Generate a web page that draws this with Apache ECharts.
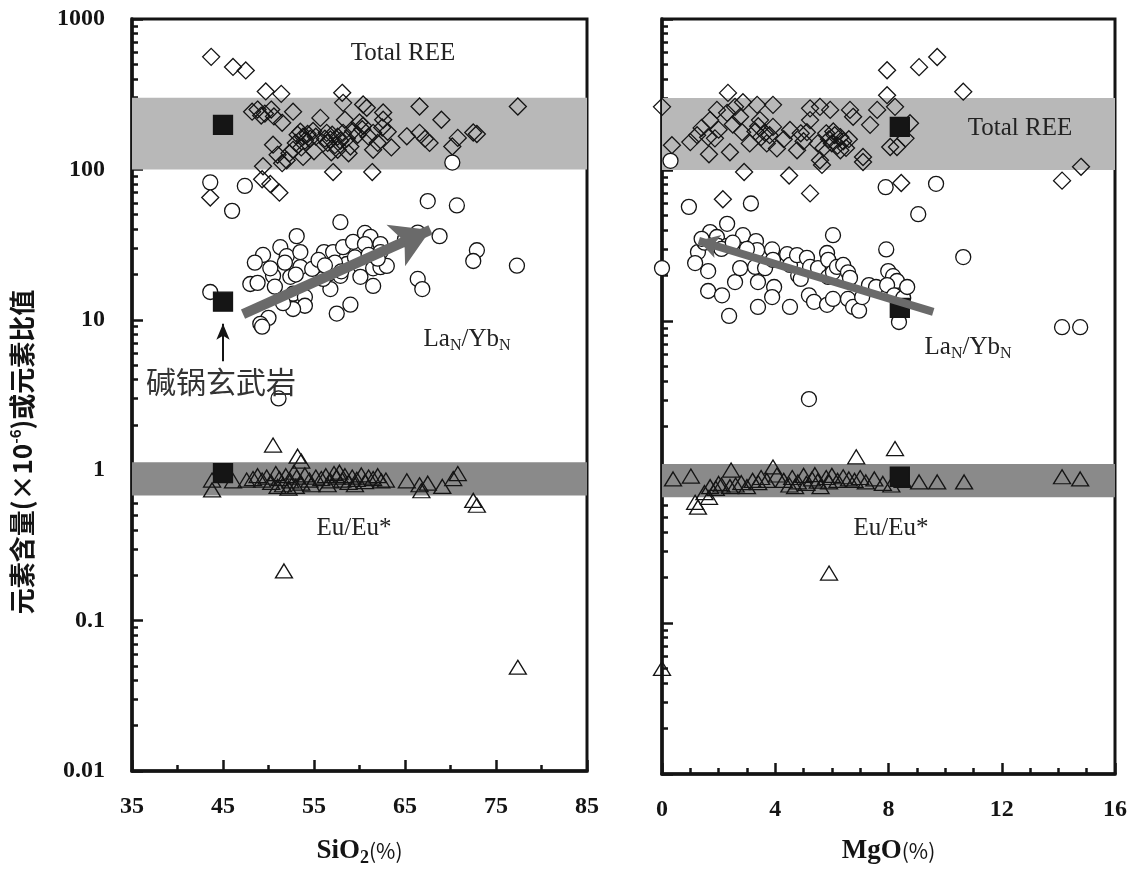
<!DOCTYPE html>
<html>
<head>
<meta charset="utf-8">
<script src="https://cdn.jsdelivr.net/npm/echarts@6/dist/echarts.min.js"></script>
<style>
  html, body { margin: 0; background: #fff; }
  #chart { width: 1138px; height: 872px; }
</style>
</head>
<body>
<div id="chart"></div>
<script>
// ---- 数据 ----
// SiO2 图: [SiO2, Total REE]
const sio2Diamonds = [
  [43.7,560],[46.1,480],[47.5,455],[49.7,330],[51.4,318],[58.1,323],[58.2,277],[60.4,270],[60.8,257],[62.6,239],[66.6,262],[77.4,262],
  [48.2,242],[48.8,250],[49.2,228],[49.6,235],[50.3,250],[50.6,225],[52.7,242],[51.5,204],[55.7,220],[58.4,214],[60,205],[60.4,195],
  [62.6,214],[63.1,178],[65.2,166],[66.6,175],[67.2,160],[67.7,150],[69,214],[70.2,142],[70.8,162],[72.5,176],[72.9,172],[50.5,146],
  [53.2,170],[53.5,178],[53.8,165],[54,155],[54.3,172],[54.6,160],[53,150],[54.9,180],[53.6,140],[55.2,165],
  [56.2,160],[56.5,150],[56.8,158],[57,170],[57.3,145],[57.6,165],[57.9,155],[58.2,175],[56.4,175],[58.6,160],[59.3,180],
  [59.8,170],[60.3,185],[61,165],[61.5,175],[62,150],[62.5,190],
  [57.1,96],[61.4,96],[51.5,110],[52,115],[49.4,105],[53.8,121],[61.5,135],[57.6,135],[56.9,130],[59,142],[52.7,135],
  [49.3,86],[50.2,80],[51.2,70],[43.6,65],[55,132],[58.8,128],[63.5,140],[51,125],[52.3,128]
];
// [SiO2, LaN/YbN]
const sio2Circles = [
  [43.6,82],[47.4,77.6],[70.2,111],[67.5,61.6],[70.7,57.6],[46,53],[57.9,44.6],[53.1,36],[51.3,30.4],[49.4,27],[48.5,24],
  [48,17.3],[48.8,17.6],[50.5,19.6],[50.7,16.6],[52,26.5],[53.5,28.2],[53.5,22.4],[52.4,19.3],[52.7,14.9],[54,14.2],[54,12.4],
  [52.7,11.8],[51.6,12.9],[50,10.3],[49.1,9.4],[49.3,9.0],[43.6,15.3],[56.1,28.2],[57.1,28.2],[58.2,30.4],[59.3,33],[60.6,37.8],
  [61.2,35.6],[60.6,31.9],[62.3,31.9],[62.3,28.2],[55.3,22.4],[56.5,20],[57.9,19.6],[56.8,16],[58.6,23.5],[60.1,22.8],[60.1,19.3],
  [61.5,22],[62.3,22.4],[63,22.8],[61.5,16.8],[59,12.6],[57.5,11],[55.7,21.8],[56,18.7],[54.8,21.8],[65,34.4],[66.4,38],[68.8,36],
  [72.9,29],[72.5,24.6],[77.3,22.9],[66.4,18.7],[66.9,16],[51.1,3.0],
  [55.5,25],[57.3,24],[59.5,26],[58,21],[61,27],[62,25.5],[50.2,22],[51.8,24],[53,20],[56.2,23]
];
// [SiO2, Eu/Eu*]
const sio2Triangles = [
  [50.5,1.47],[53.2,1.24],[53.6,1.15],[43.8,0.74],[43.8,0.86],[46.1,0.85],[47.6,0.86],
  [48.3,0.88],[48.8,0.92],[49.3,0.86],[49.8,0.9],[50.3,0.83],[50.8,0.95],[51.2,0.88],[51.6,0.8],[51.9,0.92],[52.4,0.85],
  [52.8,0.97],[53.1,0.9],[53.6,0.82],[54,0.93],[54.5,0.86],[55.2,0.9],[55.8,0.88],[56.3,0.92],[56.8,0.85],[57.2,0.95],
  [57.5,0.9],[57.8,0.97],[58.1,0.86],[58.4,0.92],[58.8,0.83],[59.2,0.9],[59.7,0.87],[60.2,0.93],[60.6,0.84],[61,0.9],
  [61.5,0.88],[62,0.92],[62.4,0.85],[62.9,0.86],[51,0.78],[53,0.78],[56.5,0.8],[59.5,0.8],[52.2,0.76],[54.7,0.8],
  [65.2,0.85],[66.6,0.8],[66.8,0.73],[67.5,0.82],[69.1,0.78],[70.3,0.88],[70.8,0.95],[72.5,0.63],[72.9,0.585],
  [51.7,0.214],[77.4,0.049]
];
const sio2Basalt = [[45,198],[45,13.2],[45,0.955]];

// MgO 图: [MgO, Total REE]
const mgoDiamonds = [
  [0,262],[0.35,146],[1.0,153],[1.24,170],[1.7,214],[1.94,250],[2.33,324],[2.58,262],[2.86,281],[2.3,239],[2.76,225],[1.63,165],
  [1.87,162],[1.66,127],[2.4,131],[2.83,178],[3.36,270],[3.92,270],[3.46,214],[3.64,176],[3.1,150],[3.92,193],[4.06,139],
  [4.52,184],[4.77,135],[5.23,256],[5.58,262],[5.94,250],[5.23,214],[5.12,178],
  [5.9,160],[6.0,150],[6.1,170],[6.2,145],[6.3,165],[6.4,155],[6.5,140],[6.6,160],[5.8,175],[6.05,180],[6.3,135],[5.5,150],[5.7,140],
  [5.58,116],[5.65,108],[6.64,250],[6.75,225],[7.1,122],[7.1,113],[7.35,199],[7.6,250],[7.95,458],[7.95,313],[8.23,262],
  [8.76,204],[8.06,142],[8.3,142],[8.6,162],[9.08,480],[9.72,560],[10.64,330],[14.13,85],[14.8,105],[2.9,97],[4.49,92],
  [5.23,70],[2.15,64],[8.45,82],
  [3.3,180],[3.5,165],[3.7,150],[3.4,195],[3.8,170],[4.3,160],[4.9,175],[5.0,155],[2.0,185],[2.5,200],[1.4,190]
];
// [MgO, LaN/YbN]
const mgoCircles = [
  [0.3,115],[0.95,57],[3.14,60],[7.9,77],[9.68,81],[9.05,51],[0,22.4],[2.3,44],[1.7,38.8],[1.94,36],[1.98,31.4],[2.3,31.4],
  [2.69,31.9],[2.86,37],[3.32,33.8],[3.36,29.5],[1.27,28.6],[1.17,24.2],[1.63,21.4],[1.63,15.8],[2.12,14.8],[2.58,18.1],
  [2.37,10.8],[2.76,22.4],[3.29,22.8],[3.64,22.4],[3.39,18.1],[3.89,29.8],[3.92,25.4],[3.96,16.8],[3.89,14.4],[3.39,12.4],
  [4.42,27.7],[4.52,23.5],[4.77,27.3],[5.12,26.2],[4.81,20],[4.9,19],[5.23,22.8],[5.51,22.4],[4.52,12.4],[5.19,14.8],
  [5.37,13.4],[5.83,12.8],[5.83,28.2],[5.87,25.4],[6.04,37],[5.87,19.6],[6.04,21],[6.04,14],[6.18,22.8],[6.4,23.5],
  [6.57,21],[6.64,19.3],[6.57,14],[6.75,12.4],[6.96,11.7],[7.07,14.4],[7.31,17.3],[7.56,16.8],[7.92,29.8],[7.99,21.4],
  [8.16,19.8],[8.3,18.4],[7.95,17.3],[8.2,14.8],[8.52,14.2],[8.66,16.8],[8.37,9.85],[10.64,26.5],[5.19,3.04],[14.13,9.1],
  [14.77,9.1],[1.5,33],[2.1,30],[2.5,33],[3.0,30],[1.4,35]
];
// [MgO, Eu/Eu*]
const mgoTriangles = [
  [0,0.05],[0.39,0.9],[1.02,0.94],[1.17,0.63],[1.27,0.585],[1.66,0.68],[1.7,0.8],[1.9,0.78],[2.1,0.82],[2.4,0.8],[2.44,1.03],
  [2.6,0.82],[2.8,0.85],[3.0,0.8],[3.2,0.88],[3.4,0.85],[3.5,0.92],[3.7,0.88],[3.92,1.08],[4.06,0.955],[4.3,0.88],[4.5,0.82],
  [4.6,0.92],[4.8,0.86],[5.0,0.95],[5.1,0.84],[5.3,0.9],[5.4,0.96],[5.5,0.87],[5.6,0.8],[5.8,0.92],[5.9,0.86],[6.0,0.95],
  [6.2,0.88],[6.4,0.93],[6.6,0.9],[6.86,1.26],[6.8,0.88],[7.0,0.92],[7.2,0.86],[7.5,0.9],[7.8,0.84],[8.23,1.43],[8.1,0.82],
  [8.5,0.88],[9.08,0.86],[9.72,0.86],[10.67,0.86],[14.13,0.93],[14.77,0.9],[5.9,0.214],[1.5,0.73],[2.0,0.84],[4.7,0.8]
];
const mgoBasalt = [[8.4,193],[8.4,12.2],[8.4,0.93]];

// 背景条带、趋势箭头
const reeBand = [100, 300];
const euBand = [0.68, 1.13];
const trendSiO2 = [[47.2,10.9],[67.8,39.6]];
const trendMgO = [[9.58,11.5],[1.3,34]];
const basaltArrow = [[45,5.3],[45,9.4]];

// 刻度
const yMajorTicks = [0.01, 0.1, 1, 10, 100, 1000];
const yMinorSteps = [2, 3, 4, 5, 6, 7, 8, 9];
const yMinorTicks = [];
yMajorTicks.slice(0, -1).forEach(d => yMinorSteps.forEach(m => yMinorTicks.push(+(d * m).toPrecision(3))));

const serif = "'Liberation Serif','Times New Roman',serif";
const cjk = "'Noto Sans CJK SC',sans-serif";
const ink = '#141414';

let makeYAxes = (gi, showLabel) => [
  {
    type: 'log', gridIndex: gi, min: 0.01, max: 1000, position: 'left',
    axisLine: { show: true, lineStyle: { color: ink, width: 3.5 } },
    axisTick: { inside: true, length: 11, lineStyle: { color: ink, width: 2.5 }, customValues: yMajorTicks },
    axisLabel: { show: showLabel, customValues: yMajorTicks, margin: 27, formatter: v => String(v),
      fontFamily: serif, fontWeight: 'bold', fontSize: 24, color: ink },
    splitLine: { show: false }
  },
  {
    type: 'log', gridIndex: gi, min: 0.01, max: 1000, position: 'left',
    axisLine: { show: false },
    axisTick: { inside: true, length: 6, lineStyle: { color: ink, width: 2.5 }, customValues: yMinorTicks },
    axisLabel: { show: false },
    splitLine: { show: false }
  }
];

let makeXAxis = (gi, min, max, interval, minorSplit, name) => ({
  type: 'value', gridIndex: gi, min, max, interval,
  axisLine: { show: true, lineStyle: { color: ink, width: 3.5 } },
  axisTick: { inside: true, length: 11, lineStyle: { color: ink, width: 2.5 } },
  minorTick: { show: true, splitNumber: minorSplit, length: 6, lineStyle: { color: ink, width: 2.5 } },
  axisLabel: { margin: 24, fontFamily: serif, fontWeight: 'bold', fontSize: 24, color: ink },
  splitLine: { show: false },
  name, nameLocation: 'middle', nameGap: 64,
  nameTextStyle: {
    rich: {
      b: { fontFamily: serif, fontWeight: 'bold', fontSize: 27, color: ink },
      s: { fontFamily: serif, fontWeight: 'bold', fontSize: 18, color: ink, padding: [14, 0, 0, 0] },
      p: { fontFamily: cjk, fontSize: 21, color: ink }
    }
  }
});

let scatter = (gi, data, symbol, size, fill) => ({
  type: 'scatter', xAxisIndex: gi, yAxisIndex: gi * 2, data, symbol, symbolSize: size,
  itemStyle: { color: fill, borderColor: ink, borderWidth: 1.3, opacity: 1 },
  z: 3, silent: true
});

let bands = gi => ({
  type: 'scatter', xAxisIndex: gi, yAxisIndex: gi * 2, data: [], z: 1, silent: true,
  markArea: {
    silent: true,
    data: [
      [{ yAxis: reeBand[0], itemStyle: { color: '#b8b8b8' } }, { yAxis: reeBand[1] }],
      [{ yAxis: euBand[0], itemStyle: { color: '#8a8a8a' } }, { yAxis: euBand[1] }]
    ]
  }
});

let trend = (gi, pts, width, headSize) => ({
  type: 'scatter', xAxisIndex: gi, yAxisIndex: gi * 2, data: [], z: 2, silent: true,
  markLine: {
    silent: true, symbol: ['none', 'arrow'], symbolSize: headSize,
    lineStyle: { color: '#6a6a6a', width, type: 'solid' },
    itemStyle: { color: '#6a6a6a' },
    label: { show: false },
    data: [[{ coord: pts[0] }, { coord: pts[1] }]]
  }
});

let labelText = (x, y, text, rich) => ({
  type: 'text', x, y, z: 10, silent: true,
  style: { text, align: 'center', verticalAlign: 'middle', fontFamily: serif, fontSize: 25, fill: '#222', rich }
});
const subRich = {
  a: { fontFamily: serif, fontSize: 25, fill: '#222' },
  n: { fontFamily: serif, fontSize: 16, fill: '#222', padding: [14, 0, 0, 0] }
};

const option = {
  backgroundColor: '#fff',
  animation: false,
  grid: [
    { left: 132, top: 19, width: 455, height: 755, show: true, borderColor: ink, borderWidth: 3 },
    { left: 662, top: 19, width: 453, height: 755, show: true, borderColor: ink, borderWidth: 3 }
  ],
  xAxis: [
    makeXAxis(0, 35, 85, 10, 2, '{b|SiO}{s|2}{p|(%)}'),
    makeXAxis(1, 0, 16, 4, 4, '{b|MgO}{p|(%)}')
  ],
  yAxis: [...makeYAxes(0, true), ...makeYAxes(1, false)],
  series: [
    bands(0), bands(1),
    trend(0, trendSiO2, 10, [34, 38]),
    trend(1, trendMgO, 8, [18, 20]),
    scatter(0, sio2Diamonds, 'diamond', 17, 'rgba(0,0,0,0)'),
    scatter(0, sio2Circles, 'circle', 15, '#fff'),
    scatter(0, sio2Triangles, 'triangle', [17, 14], 'rgba(0,0,0,0)'),
    scatter(1, mgoDiamonds, 'diamond', 17, 'rgba(0,0,0,0)'),
    scatter(1, mgoCircles, 'circle', 15, '#fff'),
    scatter(1, mgoTriangles, 'triangle', [17, 14], 'rgba(0,0,0,0)'),
    Object.assign(scatter(0, sio2Basalt, 'rect', 19, '#151515'), { z: 4 }),
    Object.assign(scatter(1, mgoBasalt, 'rect', 19, '#151515'), { z: 4 }),
    {
      type: 'scatter', xAxisIndex: 0, yAxisIndex: 0, data: [], z: 4, silent: true,
      markLine: {
        silent: true, symbol: ['none', 'arrow'], symbolSize: [10, 16],
        lineStyle: { color: ink, width: 2, type: 'solid' }, itemStyle: { color: ink },
        label: { show: false },
        data: [[{ coord: basaltArrow[0] }, { coord: basaltArrow[1] }]]
      }
    }
  ],
  graphic: [
    labelText(403, 53, 'Total REE'),
    labelText(1020, 128, 'Total REE'),
    labelText(467, 339, '{a|La}{n|N}{a|/Yb}{n|N}', subRich),
    labelText(968, 347, '{a|La}{n|N}{a|/Yb}{n|N}', subRich),
    labelText(354, 528, 'Eu/Eu*'),
    labelText(891, 528, 'Eu/Eu*'),
    {
      type: 'text', x: 221, y: 382, z: 10, silent: true,
      style: { text: '碱锅玄武岩', align: 'center', verticalAlign: 'middle', fontFamily: cjk, fontSize: 30, fill: '#333' }
    },
    {
      type: 'text', x: 22, y: 452, rotation: Math.PI / 2, z: 10, silent: true,
      style: {
        text: '{t|元素含量(×10}{u|-6}{t|)或元素比值}', align: 'center', verticalAlign: 'middle',
        rich: {
          t: { fontFamily: cjk, fontWeight: 'bold', fontSize: 26, fill: ink },
          u: { fontFamily: cjk, fontWeight: 'bold', fontSize: 15, fill: ink, padding: [0, 0, 13, 0] }
        }
      }
    }
  ]
};

let Echarts = echarts.init(document.getElementById('chart'));
Echarts.setOption(option);
window.onresize = () => {
  Echarts.resize();
};
</script>
</body>
</html>
